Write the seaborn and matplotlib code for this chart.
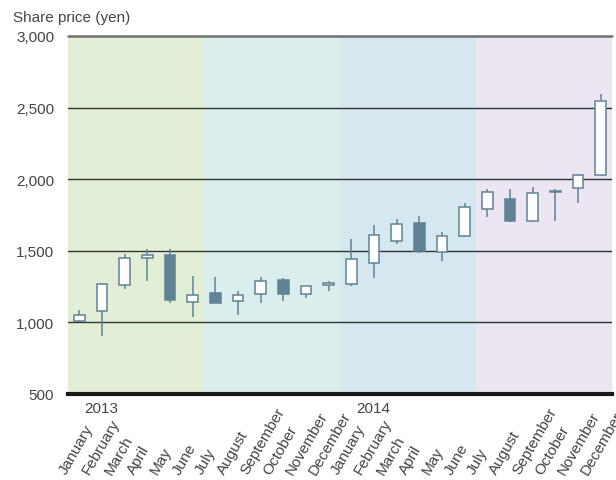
import matplotlib
matplotlib.use("Agg")
import matplotlib.pyplot as plt
import matplotlib.transforms as mtransforms
import numpy as np
import pandas as pd
import seaborn as sns

# Monthly share price candles (yen), January 2013 - December 2014
months = ["January", "February", "March", "April", "May", "June",
          "July", "August", "September", "October", "November", "December"]
years = ["2013", "2014"]
month_labels = months * 2

open_px = [1012, 1077, 1262, 1448, 1474, 1145,
           1206, 1147, 1195, 1295, 1195, 1258,
           1270, 1418, 1565, 1693, 1495, 1604,
           1795, 1865, 1709, 1912, 1937, 2031]
close_px = [1050, 1265, 1448, 1470, 1156, 1190,
            1138, 1193, 1290, 1197, 1255, 1278,
            1440, 1610, 1690, 1500, 1600, 1804,
            1912, 1706, 1905, 1920, 2031, 2546]
high_px = [1086, 1276, 1478, 1510, 1510, 1323,
           1314, 1216, 1314, 1309, 1257, 1286,
           1580, 1680, 1720, 1745, 1628, 1837,
           1933, 1933, 1949, 1930, 2033, 2598]
low_px = [1005, 905, 1232, 1286, 1135, 1040,
          1132, 1053, 1132, 1146, 1172, 1220,
          1255, 1310, 1545, 1483, 1430, 1595,
          1735, 1702, 1702, 1705, 1835, 2028]

# Half-year background shading
band_colors = ["#e3eed6", "#daeeed", "#d6e8ef", "#ebe6f2"]

y_ticks = [500, 1000, 1500, 2000, 2500, 3000]
y_tick_labels = ["500", "1,000", "1,500", "2,000", "2,500", "3,000"]

df = pd.DataFrame({"month": month_labels, "open": open_px, "close": close_px,
                   "high": high_px, "low": low_px})
df["pos"] = np.arange(len(df))
df["up"] = df["close"] >= df["open"]
df["body_low"] = df[["open", "close"]].min(axis=1)
df["body_h"] = (df["close"] - df["open"]).abs()

sns.set_theme(style="white")
plt.rcParams["font.family"] = ["Liberation Sans", "DejaVu Sans"]

candle = "#5f8294"
text_col = "#444444"

fig = plt.figure(figsize=(6.16, 4.81), dpi=100)
ax = fig.add_axes([68 / 616, 1 - 395 / 481, (612 - 68) / 616, (395 - 37) / 481])

n = len(df)
ax.set_xlim(-0.5, n - 0.5)
ax.set_ylim(500, 3000)

for i, c in enumerate(band_colors):
    ax.axvspan(i * 6 - 0.5, i * 6 + 5.5, color=c, lw=0, zorder=0)

for t in y_ticks[1:-1]:
    ax.axhline(t, color="#333333", lw=1.0, zorder=1)
ax.axhline(3000, color="#707070", lw=1.8, zorder=1, clip_on=False)

# wicks then bodies
ax.vlines(df["pos"], df["low"], df["high"], color=candle, lw=1.1, zorder=2)
ax.bar(df["pos"], df["body_h"].clip(lower=6), bottom=df["body_low"], width=0.46,
       color=np.where(df["up"], "white", candle), edgecolor=candle, lw=1.1, zorder=3)

for s in ["top", "right", "left"]:
    ax.spines[s].set_visible(False)
ax.spines["bottom"].set_color("#1a1a1a")
ax.spines["bottom"].set_linewidth(3)
ax.spines["bottom"].set_zorder(4)

ax.set_yticks(y_ticks)
ax.set_yticklabels(y_tick_labels, fontsize=11, color=text_col)
ax.tick_params(axis="y", length=0, pad=10)
ax.set_xticks([])
ax.set_xlabel("")
ax.set_ylabel("")

# month names, anchored at the start of their baseline
trans = mtransforms.blended_transform_factory(ax.transData, fig.transFigure)
for p, lab in zip(df["pos"], df["month"]):
    ax.text(p - 0.58, 5 / 481, lab, transform=trans, rotation=60,
            rotation_mode="anchor", ha="left", va="baseline",
            fontsize=11, color=text_col, clip_on=False)

for k, yr in enumerate(years):
    ax.text(k * 12 + 0.2, -0.0503, yr, transform=ax.get_xaxis_transform(),
            ha="left", va="baseline", fontsize=11, color=text_col)

fig.text(12.7 / 616, 1 - 22 / 481, "Share price (yen)", ha="left", va="baseline",
         fontsize=11, color=text_col)

fig.savefig("out.png", dpi=100)
